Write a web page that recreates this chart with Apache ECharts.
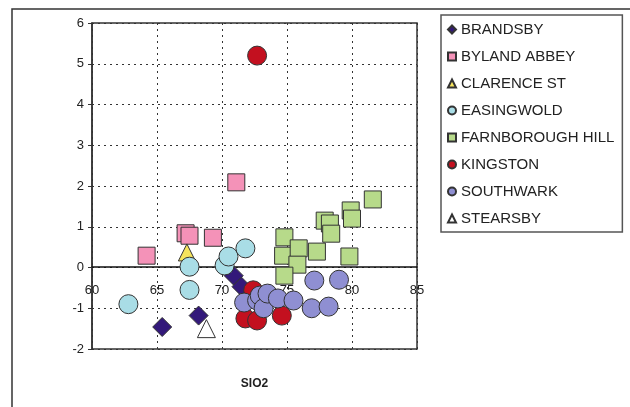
<!DOCTYPE html>
<html>
<head>
<meta charset="utf-8">
<script src="https://cdn.jsdelivr.net/npm/echarts@6/dist/echarts.min.js"></script>
<style>
  html, body { margin: 0; padding: 0; background: #fff; }
  #chart { width: 630px; height: 407px; }
</style>
</head>
<body>
<div id="chart"></div>
<script>
// SiO2 vs second variable
const brandsby = [[65.4, -1.46], [68.2, -1.18], [70.9, -0.2], [71.5, -0.47]]
const bylandAbbey = [[64.2, 0.29], [67.2, 0.84], [67.5, 0.78], [69.3, 0.73], [71.1, 2.09]]
const clarenceSt = [[67.3, 0.37]]
const easingwold = [[62.8, -0.9], [67.5, 0.02], [67.5, -0.55], [70.2, 0.05], [70.5, 0.27], [71.8, 0.47]]
const farnboroughHill = [[81.6, 1.67], [79.9, 1.4], [80.0, 1.2], [77.9, 1.15], [78.3, 1.08], [78.4, 0.83],
  [77.3, 0.39], [79.8, 0.27], [74.8, 0.74], [74.7, 0.29], [75.9, 0.47], [75.8, 0.07], [74.8, -0.2]]
const kingston = [[72.7, 5.2], [72.4, -0.56], [71.8, -1.25], [72.7, -1.3], [74.6, -1.18]]
const southwark = [[71.7, -0.86], [72.7, -0.81], [72.9, -0.69], [73.2, -1.0], [73.5, -0.64], [74.3, -0.76],
  [75.5, -0.81], [76.9, -1.0], [77.1, -0.32], [78.2, -0.96], [79.0, -0.3]]
const stearsby = [[68.8, -1.5]]

const groups = [
  { name: 'BRANDSBY', data: brandsby, symbol: 'diamond', size: 19, color: '#33197a' },
  { name: 'BYLAND ABBEY', data: bylandAbbey, symbol: 'rect', size: 17, color: '#f492b8' },
  { name: 'CLARENCE ST', data: clarenceSt, symbol: 'triangle', size: 17, color: '#f6e45c' },
  { name: 'EASINGWOLD', data: easingwold, symbol: 'circle', size: 19, color: '#a9dde6' },
  { name: 'FARNBOROUGH HILL', data: farnboroughHill, symbol: 'rect', size: 17, color: '#b7da8a' },
  { name: 'KINGSTON', data: kingston, symbol: 'circle', size: 19, color: '#c3101f' },
  { name: 'SOUTHWARK', data: southwark, symbol: 'circle', size: 19, color: '#8f8fd2' },
  { name: 'STEARSBY', data: stearsby, symbol: 'triangle', size: 18, color: '#ffffff' }
]

const font = 'Liberation Sans, Arial, sans-serif'

const chart = echarts.init(document.getElementById('chart'))
chart.setOption({
  animation: false,
  graphic: [{
    type: 'rect',
    shape: { x: 12, y: 9, width: 700, height: 500 },
    style: { fill: 'none', stroke: '#333', lineWidth: 1.5 },
    silent: true
  }],
  grid: {
    left: 92, right: 213, top: 23, bottom: 58,
    outerBoundsMode: 'none', containLabel: false,
    show: true, borderColor: '#333', borderWidth: 1.5
  },
  legend: {
    orient: 'vertical',
    left: 441, top: 15,
    padding: [7, 8, 6, 6],
    itemWidth: 8, itemHeight: 8, itemGap: 12,
    borderColor: '#555', borderWidth: 1.5,
    selectedMode: false,
    textStyle: { fontFamily: font, fontSize: 15, color: '#222' },
    data: groups.map(g => g.name)
  },
  xAxis: {
    type: 'value', min: 60, max: 85, interval: 5,
    // axis drawn along y = 0, labels underneath it
    offset: -82,
    name: 'SIO2', nameLocation: 'middle', nameGap: 111,
    nameTextStyle: { fontFamily: font, fontSize: 12, fontWeight: 'bold', color: '#222' },
    axisLine: { onZero: false, lineStyle: { color: '#111', width: 1.5 } },
    axisTick: { show: false },
    axisLabel: { margin: 17, fontFamily: font, fontSize: 13, color: '#222' },
    splitLine: { lineStyle: { type: [2, 4], color: '#333' } }
  },
  yAxis: {
    type: 'value', min: -2, max: 6, interval: 1,
    axisLine: { show: true, lineStyle: { color: '#333', width: 1.5 } },
    axisTick: { show: true, length: 4, lineStyle: { color: '#333' } },
    axisLabel: { margin: 8, fontFamily: font, fontSize: 13, color: '#222' },
    splitLine: { lineStyle: { type: [2, 4], color: '#333' } }
  },
  series: groups.map(g => ({
    name: g.name,
    type: 'scatter',
    data: g.data,
    symbol: g.symbol,
    symbolSize: g.size,
    itemStyle: { color: g.color, borderColor: '#333', borderWidth: 1, opacity: 1 }
  }))
})
</script>
</body>
</html>
